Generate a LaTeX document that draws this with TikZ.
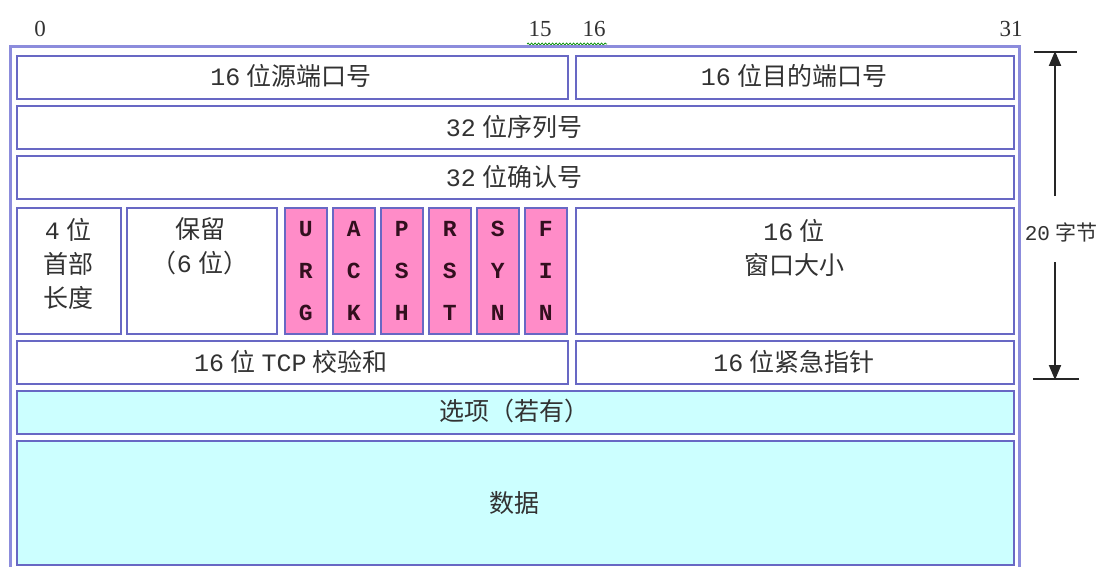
\documentclass[tikz,border=0pt]{standalone}
\usepackage{fontspec}
\setmainfont{Liberation Serif}
\newfontfamily\cjkf{Noto Sans CJK SC}
\newfontfamily\monof{Liberation Mono}
\usetikzlibrary{arrows.meta,decorations.pathmorphing}
\definecolor{boxline}{RGB}{104,104,196}
\definecolor{frameline}{RGB}{140,140,220}
\definecolor{flagpink}{RGB}{255,140,200}
\definecolor{optcyan}{RGB}{204,255,255}
\definecolor{txt}{RGB}{50,50,50}
\definecolor{flagtxt}{RGB}{50,15,30}
\newcommand{\zh}[1]{{\cjkf #1}}
\newcommand{\nm}[1]{{\monof #1}}
\begin{document}
\begin{tikzpicture}[x=1pt,y=-1pt,
  fieldbox/.style={draw=boxline, line width=1.6pt, fill=white, inner sep=0pt, anchor=north west},
  flagbox/.style={fieldbox, fill=flagpink, minimum width=42pt, minimum height=126pt},
  cyanbox/.style={fieldbox, fill=optcyan},
  lbl/.style={text=txt, inner sep=0pt, align=center, font=\fontsize{25}{34}\selectfont},
  flaglbl/.style={text=flagtxt, inner sep=0pt, align=center, font=\fontsize{23}{42}\selectfont\monof\bfseries},
  toplbl/.style={text=txt, inner sep=0pt, font=\fontsize{23}{26}\selectfont},
  dimline/.style={line width=2pt, draw=black!85}
]
\useasboundingbox (0,0) rectangle (1105,567);
\fill[white] (0,0) rectangle (1105,567);

% top bit numbers
\node[toplbl] (b0) at (40,29) {0};
\node[toplbl] (b15) at (540,29) {15};
\node[toplbl] (b16) at (594,29) {16};
\node[toplbl] (b31) at (1011,29) {31};
\coordinate (sq0) at (527,44);
\coordinate (sq1) at (607,44);
\draw[green!55!black, line width=0.7pt, decorate, decoration={snake, amplitude=1pt, segment length=3.5pt}] (sq0) -- (sq1);

% outer frame
\draw[frameline, line width=3pt] (10,47) rectangle (1019,580);

% row 1
\node[fieldbox, minimum width=551pt, minimum height=43pt] (src) at (16,55) {};
\node[fieldbox, minimum width=438pt, minimum height=43pt] (dst) at (575,55) {};
% row 2, 3
\node[fieldbox, minimum width=997pt, minimum height=43pt] (seq) at (16,105) {};
\node[fieldbox, minimum width=997pt, minimum height=43pt] (ack) at (16,155) {};
% row 4
\node[fieldbox, minimum width=104pt, minimum height=126pt] (hlen) at (16,207) {};
\node[fieldbox, minimum width=150pt, minimum height=126pt] (resv) at (126,207) {};
\node[flagbox] (urg) at (284,207) {};
\node[flagbox] (ackf) at (332,207) {};
\node[flagbox] (psh) at (380,207) {};
\node[flagbox] (rst) at (428,207) {};
\node[flagbox] (syn) at (476,207) {};
\node[flagbox] (fin) at (524,207) {};
\node[fieldbox, minimum width=438pt, minimum height=126pt] (win) at (575,207) {};
% row 5
\node[fieldbox, minimum width=551pt, minimum height=43pt] (csum) at (16,340) {};
\node[fieldbox, minimum width=438pt, minimum height=43pt] (urgp) at (575,340) {};
% options, data
\node[cyanbox, minimum width=997pt, minimum height=43pt] (opt) at (16,390) {};
\node[cyanbox, minimum width=997pt, minimum height=124pt] (data) at (16,440) {};

% labels
\node[lbl] (srct) at (291,76) {\nm{16} \zh{位源端口号}};
\node[lbl] (dstt) at (794,76) {\nm{16} \zh{位目的端口号}};
\node[lbl] (seqt) at (514,127) {\nm{32} \zh{位序列号}};
\node[lbl] (ackt) at (514,177) {\nm{32} \zh{位确认号}};
\node[lbl] (hlent) at (68,264) {\nm{4} \zh{位}\\\zh{首部}\\\zh{长度}};
\node[lbl] (resvt) at (200,246) {\zh{保留}\\\zh{（}\nm{6} \zh{位）}};
\node[flaglbl] (urgt) at (urg.center) {U\\R\\G};
\node[flaglbl] (ackft) at (ackf.center) {A\\C\\K};
\node[flaglbl] (psht) at (psh.center) {P\\S\\H};
\node[flaglbl] (rstt) at (rst.center) {R\\S\\T};
\node[flaglbl] (synt) at (syn.center) {S\\Y\\N};
\node[flaglbl] (fint) at (fin.center) {F\\I\\N};
\node[lbl] (wint) at (794,248) {\nm{16} \zh{位}\\\zh{窗口大小}};
\node[lbl] (csumt) at (291,362) {\nm{16} \zh{位} \nm{TCP} \zh{校验和}};
\node[lbl] (urgpt) at (794,362) {\nm{16} \zh{位紧急指针}};
\node[lbl] (optt) at (514,411) {\zh{选项（若有）}};
\node[lbl] (datat) at (514,503) {\zh{数据}};

% 20 bytes dimension
\coordinate (ttop) at (1055,52);
\coordinate (tbot) at (1055,379);
\coordinate (up0) at (1055,196);
\coordinate (dn0) at (1055,262);
\draw[dimline] (1034,52) -- (1077,52);
\draw[dimline] (1033,379) -- (1079,379);
\draw[dimline, -{Triangle[length=15pt,width=12pt]}] (up0) -- ([yshift=1pt]ttop);
\draw[dimline, -{Triangle[length=15pt,width=12pt]}] (dn0) -- ([yshift=-1pt]tbot);
\node[text=txt, inner sep=0pt, font=\fontsize{21}{24}\selectfont] (bytes) at (1061,232) {\nm{20} \zh{字节}};
\end{tikzpicture}
\end{document}
